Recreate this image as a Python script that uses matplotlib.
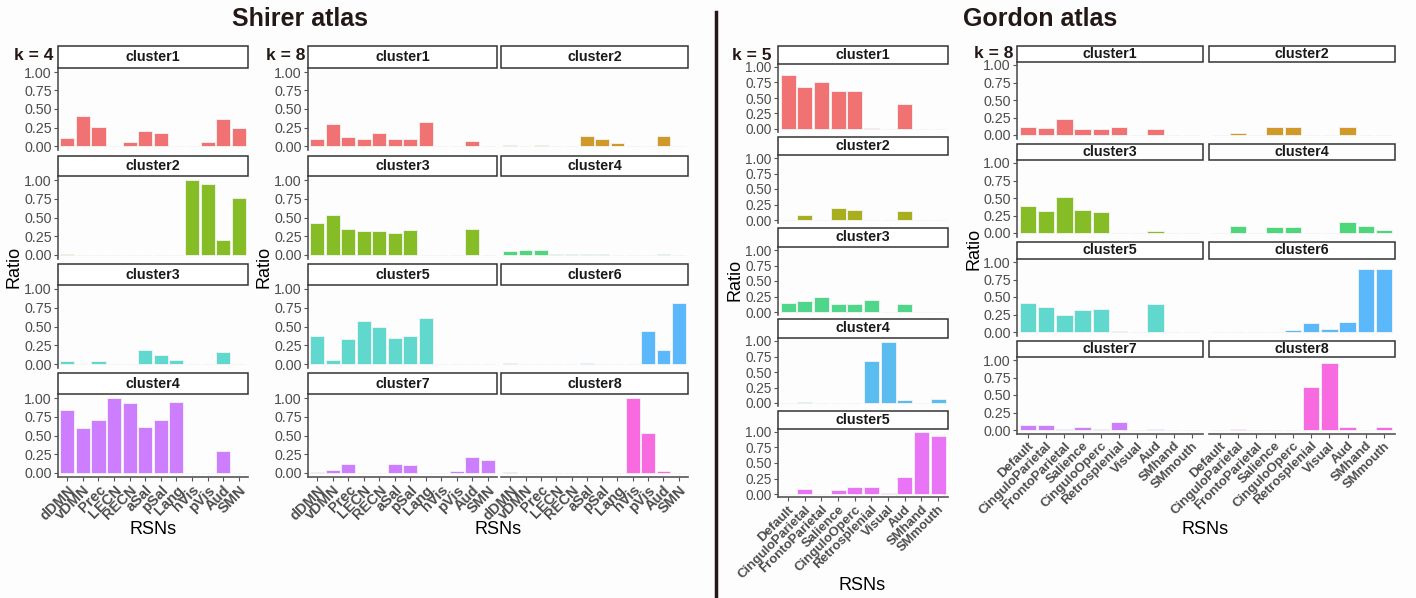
import matplotlib
matplotlib.use("Agg")
import matplotlib.pyplot as plt
from matplotlib.patches import Rectangle
import numpy as np

plt.rcParams['font.family'] = ['Liberation Sans', 'DejaVu Sans']

W, H = 1416, 598

# ---- data ----
shirer_rsn = ['dDMN', 'vDMN', 'Prec', 'LECN', 'RECN', 'aSal', 'pSal', 'Lang', 'hVis', 'pVis', 'Aud', 'SMN']
gordon_rsn = ['Default', 'CinguloParietal', 'FrontoParietal', 'Salience', 'CinguloOperc',
              'Retrosplenial', 'Visual', 'Aud', 'SMhand', 'SMmouth']

shirer_k4 = [
    [0.11, 0.40, 0.26, 0.00, 0.06, 0.20, 0.18, 0.00, 0.00, 0.05, 0.36, 0.25],
    [0.01, 0.00, 0.003, 0.00, 0.00, 0.003, 0.00, 0.00, 1.00, 0.95, 0.20, 0.76],
    [0.04, 0.00, 0.04, 0.00, 0.00, 0.19, 0.12, 0.05, 0.00, 0.00, 0.16, 0.00],
    [0.84, 0.60, 0.71, 1.00, 0.94, 0.61, 0.71, 0.95, 0.00, 0.00, 0.29, 0.00],
]
shirer_k8 = [
    [0.10, 0.30, 0.12, 0.10, 0.17, 0.10, 0.09, 0.33, 0.00, 0.00, 0.07, 0.00],
    [0.02, 0.00, 0.015, 0.00, 0.00, 0.14, 0.09, 0.045, 0.00, 0.00, 0.13, 0.00],
    [0.43, 0.53, 0.35, 0.32, 0.32, 0.29, 0.34, 0.00, 0.00, 0.00, 0.35, 0.00],
    [0.05, 0.07, 0.065, 0.02, 0.02, 0.008, 0.008, 0.00, 0.00, 0.00, 0.012, 0.00],
    [0.38, 0.06, 0.34, 0.57, 0.49, 0.35, 0.37, 0.62, 0.00, 0.00, 0.00, 0.00],
    [0.008, 0.00, 0.00, 0.00, 0.00, 0.008, 0.00, 0.00, 0.00, 0.44, 0.19, 0.82],
    [0.01, 0.04, 0.12, 0.00, 0.00, 0.12, 0.11, 0.00, 0.00, 0.03, 0.22, 0.18],
    [0.02, 0.00, 0.005, 0.00, 0.00, 0.00, 0.00, 0.00, 1.00, 0.54, 0.03, 0.00],
]
gordon_k5 = [
    [0.87, 0.67, 0.76, 0.615, 0.605, 0.015, 0.00, 0.40, 0.00, 0.00],
    [0.00, 0.075, 0.00, 0.19, 0.165, 0.00, 0.00, 0.15, 0.00, 0.00],
    [0.14, 0.17, 0.24, 0.135, 0.125, 0.20, 0.00, 0.125, 0.00, 0.00],
    [0.00, 0.02, 0.00, 0.005, 0.005, 0.68, 0.98, 0.05, 0.00, 0.07],
    [0.00, 0.075, 0.00, 0.065, 0.11, 0.11, 0.02, 0.28, 1.00, 0.93],
]
gordon_k8 = [
    [0.11, 0.10, 0.23, 0.09, 0.09, 0.11, 0.00, 0.085, 0.00, 0.00],
    [0.00, 0.025, 0.00, 0.12, 0.11, 0.00, 0.00, 0.11, 0.00, 0.00],
    [0.39, 0.32, 0.51, 0.33, 0.30, 0.00, 0.00, 0.025, 0.00, 0.00],
    [0.00, 0.10, 0.00, 0.08, 0.09, 0.005, 0.00, 0.16, 0.10, 0.05],
    [0.42, 0.36, 0.24, 0.32, 0.33, 0.01, 0.00, 0.40, 0.00, 0.00],
    [0.00, 0.00, 0.00, 0.005, 0.035, 0.135, 0.045, 0.15, 0.895, 0.905],
    [0.07, 0.07, 0.01, 0.04, 0.015, 0.115, 0.00, 0.015, 0.00, 0.00],
    [0.00, 0.015, 0.00, 0.005, 0.005, 0.62, 0.955, 0.04, 0.00, 0.04],
]

pal4 = ['#F07272', '#86BC25', '#61D8CE', '#CC7EFF']
pal8 = ['#F07272', '#CF9A2A', '#86BC25', '#4ED67A', '#61D8CE', '#5BB8FA', '#CC7EFF', '#F76AE0']
pal5 = ['#F07272', '#A9AE1E', '#50D68A', '#5BBCF0', '#E974F5']

TXT = '#4D4D4D'
AX = '#555555'
DARK = '#231815'

fig = plt.figure(figsize=(W / 100, H / 100), dpi=100)
fig.patch.set_facecolor('#FDFDFE')


def panel(x0, x1, p1, p0, s_top, vals, color, labels, title, left, bottom, xfs, yfs=10.3):
    s = p0 - p1
    top = p1 - 0.05 * s
    bot = p0 + 0.05 * s
    ax = fig.add_axes([x0 / W, 1 - bot / H, (x1 - x0) / W, (bot - top) / H])
    ax.set_facecolor('none')
    n = len(vals)
    ax.bar(np.arange(n), vals, width=0.9, color=color, edgecolor='#F4F4F4', linewidth=0.6)
    ax.set_xlim(-0.6, n - 0.4)
    ax.set_ylim(-0.05, 1.05)
    for sp in ['top', 'right']:
        ax.spines[sp].set_visible(False)
    ax.spines['left'].set_color(AX)
    ax.spines['bottom'].set_color(AX)
    ax.spines['left'].set_linewidth(1.2)
    ax.spines['bottom'].set_linewidth(1.2)
    ax.set_yticks([0, 0.25, 0.5, 0.75, 1.0])
    ax.tick_params(axis='both', colors=AX, length=3, width=0.8, labelcolor=TXT, pad=1.5)
    if left:
        ax.set_yticklabels(['0.00', '0.25', '0.50', '0.75', '1.00'], fontsize=yfs)
    else:
        ax.spines['left'].set_visible(False)
        ax.tick_params(axis='y', left=False, labelleft=False)
    ax.set_xticks(np.arange(n))
    if bottom:
        ax.set_xticklabels(labels, rotation=45, ha='right', rotation_mode='anchor',
                           fontsize=xfs, fontweight='bold')
    else:
        ax.spines['bottom'].set_visible(False)
        ax.tick_params(axis='x', bottom=False, labelbottom=False)
    fig.add_artist(Rectangle((x0 / W, 1 - top / H), (x1 - x0) / W, (top - s_top) / H,
                             transform=fig.transFigure, facecolor='white',
                             edgecolor='#333333', linewidth=1.1))
    fig.text((x0 + x1) / 2 / W, 1 - (s_top + top) / 2 / H, title, ha='center', va='center',
             fontsize=10.3, fontweight='bold', color='#1A1A1A')
    return ax


# ---- Shirer atlas ----
sh_rows = [(72, 146, 46), (180, 255, 156), (289, 364, 264), (398, 473, 373)]
for i, v in enumerate(shirer_k4):
    p1, p0, st = sh_rows[i]
    panel(58, 248, p1, p0, st, v, pal4[i], shirer_rsn, 'cluster%d' % (i + 1), True, i == 3, 10.5)

sh8_cols = [(308, 497), (501, 688)]
for i, v in enumerate(shirer_k8):
    r, c = divmod(i, 2)
    p1, p0, st = sh_rows[r]
    x0, x1 = sh8_cols[c]
    panel(x0, x1, p1, p0, st, v, pal8[i], shirer_rsn, 'cluster%d' % (i + 1), c == 0, r == 3, 10.5)

# ---- Gordon atlas ----
g5_rows = [(67, 129, 46), (158, 220, 137), (250, 312, 228), (341, 403, 319), (432, 494, 411)]
for i, v in enumerate(gordon_k5):
    p1, p0, st = g5_rows[i]
    panel(778, 948, p1, p0, st, v, pal5[i], gordon_rsn, 'cluster%d' % (i + 1), True, i == 4, 9.5, 9.8)

g8_rows = [(65, 135, 46), (163, 233, 144), (262, 332, 242), (360, 430, 341)]
g8_cols = [(1017, 1203), (1209, 1395)]
for i, v in enumerate(gordon_k8):
    r, c = divmod(i, 2)
    p1, p0, st = g8_rows[r]
    x0, x1 = g8_cols[c]
    panel(x0, x1, p1, p0, st, v, pal8[i], gordon_rsn, 'cluster%d' % (i + 1), c == 0, r == 3, 9.5)

# ---- labels ----
def ftext(x, y, s, **kw):
    fig.text(x / W, 1 - y / H, s, **kw)

ftext(300, 19, 'Shirer atlas', ha='center', va='center', fontsize=18, fontweight='bold', color=DARK)
ftext(1040, 19, 'Gordon atlas', ha='center', va='center', fontsize=18, fontweight='bold', color=DARK)
fig.add_artist(plt.Line2D([716 / W, 716 / W], [1 - 12 / H, 0], transform=fig.transFigure,
                          color=DARK, linewidth=2.5))

for x, y, s in [(53, 56, 'k = 4'), (305, 56, 'k = 8'), (772, 56, 'k = 5'), (1013, 54, 'k = 8')]:
    ftext(x, y, s, ha='right', va='center', fontsize=12.5, fontweight='bold', color=DARK)

for x, y in [(14, 267), (264, 267), (735, 280), (974, 249)]:
    ftext(x, y, 'Ratio', ha='center', va='center', rotation=90, fontsize=13, color='black')

for x, y in [(153, 530), (498, 530), (862, 586), (1205, 530)]:
    ftext(x, y, 'RSNs', ha='center', va='center', fontsize=13, color='black')

fig.savefig('out.png', dpi=100, facecolor=fig.get_facecolor())
